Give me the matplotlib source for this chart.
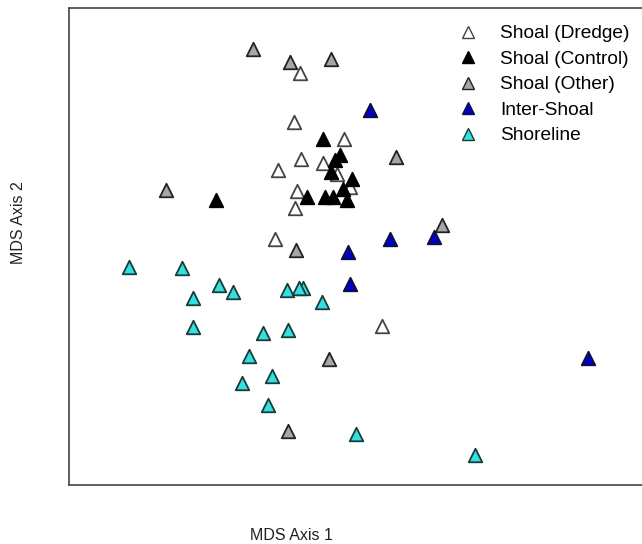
import matplotlib.pyplot as plt
from matplotlib.lines import Line2D

plt.rcParams['font.family'] = ['Liberation Sans', 'DejaVu Sans']

# MDS scores (axis 1 to the right, axis 2 downward in these units)
dredge_x = [300, 294, 344, 301, 323, 278, 337, 350, 297, 295, 275, 382]
dredge_y = [73, 122, 139, 159, 163, 170, 174, 187, 191, 208, 239, 326]

control_x = [323, 335, 340, 331, 352, 343, 307, 325, 333, 347, 216]
control_y = [139, 160, 155, 172, 179, 189, 197, 197, 197, 200, 200]

other_x = [253, 290, 331, 396, 166, 296, 442, 329, 288]
other_y = [49, 62, 59, 157, 190, 250, 225, 359, 431]

inter_x = [370, 390, 434, 348, 350, 588]
inter_y = [110, 239, 237, 252, 284, 358]

shore_x = [129, 182, 219, 233, 193, 303, 287, 299, 322, 193, 263, 288, 249, 272, 242, 268, 356, 475]
shore_y = [267, 268, 285, 292, 298, 288, 290, 288, 302, 327, 333, 330, 356, 376, 383, 405, 434, 455]

groups = ["Shoal (Dredge)", "Shoal (Control)", "Shoal (Other)", "Inter-Shoal", "Shoreline"]
fills = ["white", "black", "#a6a6a6", "#0000c8", "#33e0e0"]
edges = ["#444444", "black", "#222222", "#111133", "#1a3a3a"]

fig = plt.figure(figsize=(6.42, 5.44), dpi=100)
ax = fig.add_axes([69 / 642, 1 - 485 / 544, 576 / 642, 477 / 544])

data = [(dredge_x, dredge_y), (control_x, control_y), (other_x, other_y),
        (inter_x, inter_y), (shore_x, shore_y)]
for (xs, ys), fc, ec in zip(data, fills, edges):
    ax.scatter(xs, ys, marker="^", s=95, facecolor=fc, edgecolor=ec, linewidth=1.3, zorder=3)

ax.set_xlim(69, 645)
ax.set_ylim(485, 8)
ax.set_xticks([])
ax.set_yticks([])
for sp in ax.spines.values():
    sp.set_color("#444444")
    sp.set_linewidth(1.2)

handles = [Line2D([], [], marker="^", linestyle="none", markersize=8,
                  markerfacecolor=fc, markeredgecolor=ec, markeredgewidth=1.0)
           for fc, ec in zip(fills, edges)]
ax.legend(handles, groups, loc="upper left", bbox_to_anchor=(458 / 642, 1 - 25 / 544),
          bbox_transform=fig.transFigure, frameon=False, fontsize=13.8,
          handlelength=1.0, handletextpad=1.2, labelspacing=0.42, borderpad=0,
          borderaxespad=0)

fig.text(291 / 642, 1 - 535 / 544, "MDS Axis 1", ha="center", va="center", fontsize=11.5, color="#222222")
fig.text(19 / 642, 1 - 223 / 544, "MDS Axis 2", ha="center", va="center", rotation=90,
         fontsize=11.5, color="#222222")

fig.savefig("out.png", dpi=100)
